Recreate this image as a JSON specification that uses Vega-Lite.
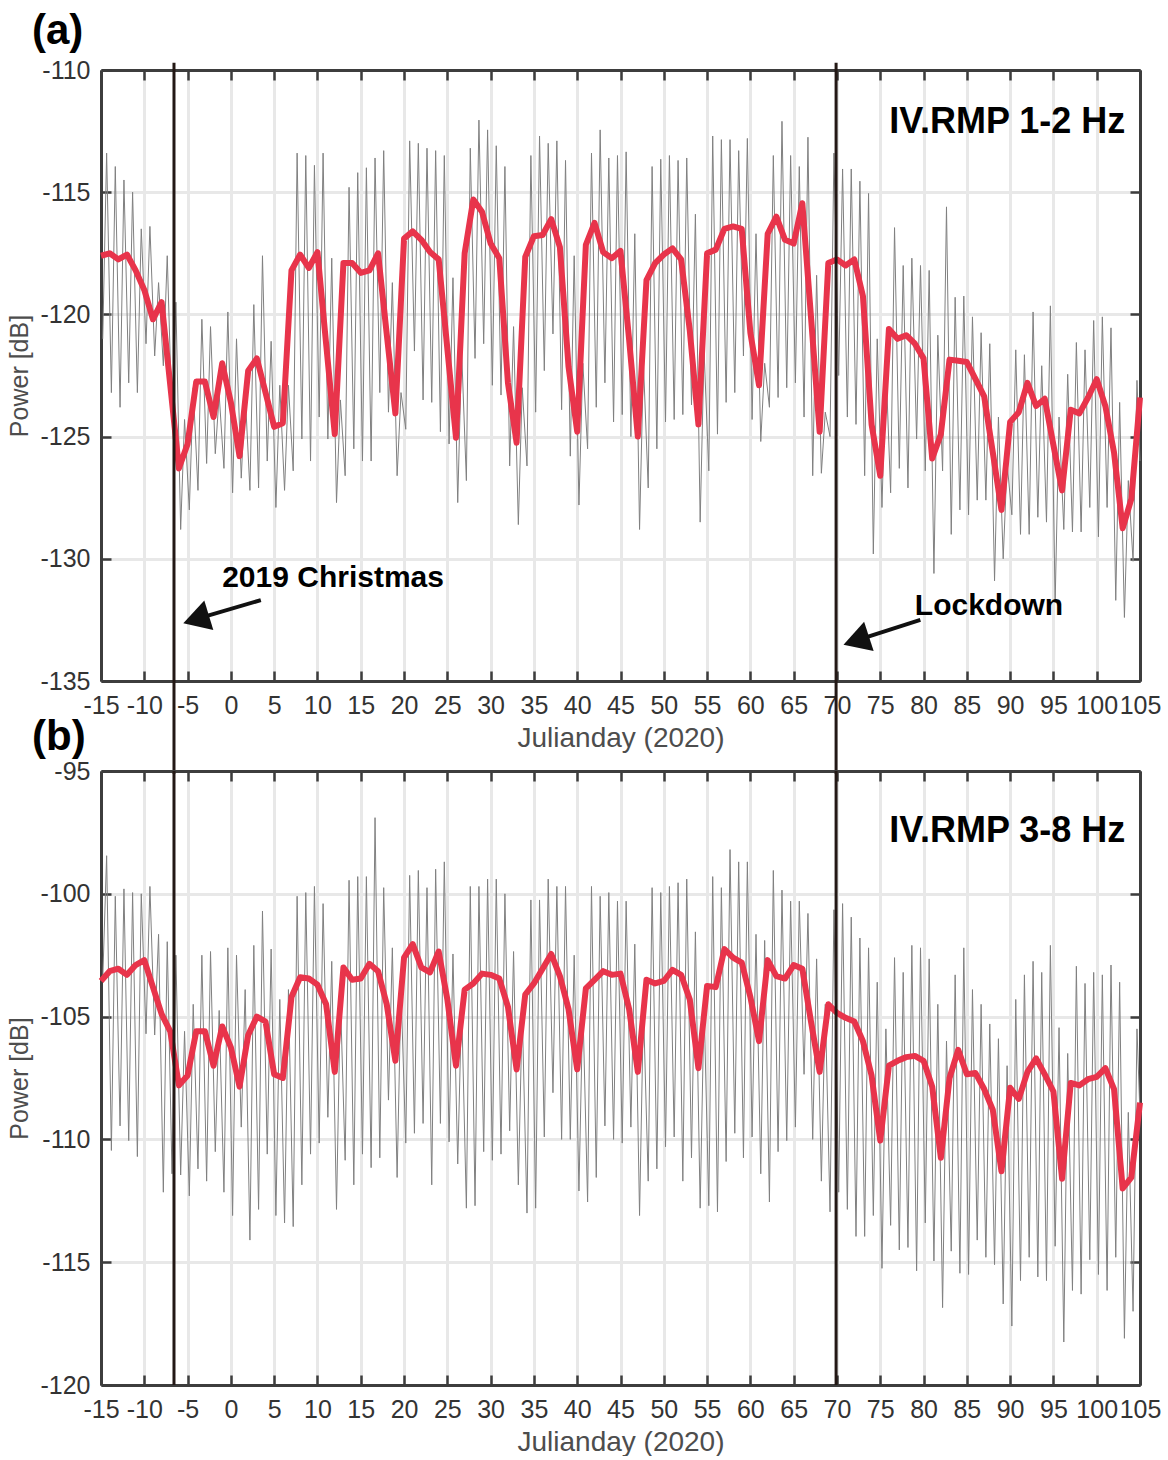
{
  "$schema": "https://vega.github.io/schema/vega-lite/v6.json",
  "background": "white",
  "padding": {"left": 7, "top": 10, "right": 0, "bottom": 0},
  "config": {
    "view": {"stroke": null},
    "font": "Liberation Sans",
    "axis": {
      "labelFont": "Liberation Sans", "titleFont": "Liberation Sans",
      "labelFontSize": 25, "titleFontSize": 28, "titleFontWeight": "normal",
      "labelColor": "#333333", "titleColor": "#4d4d4d",
      "domainColor": "#3d3d3d", "domainWidth": 3,
      "tickColor": "#3d3d3d", "tickWidth": 2.5, "tickSize": -10,
      "gridColor": "#e8e8e8", "gridWidth": 3,
      "labelOverlap": false, "labelFlush": false,
      "labelExpr": "toString(datum.value)"
    }
  },
  "datasets": {
    "events": [{"day": -6.57}, {"day": 69.9}],
    "grayA": [
      {"t":-14.8,"p":-121.0},{"t":-14.35,"p":-113.4},{"t":-13.8,"p":-123.2},{"t":-13.35,"p":-113.95},{"t":-12.8,"p":-123.8},{"t":-12.35,"p":-114.5},{"t":-11.8,"p":-122.8},{"t":-11.35,"p":-115.0},{"t":-10.8,"p":-123.2},{"t":-10.35,"p":-116.5},{"t":-9.8,"p":-121.2},{"t":-9.35,"p":-116.4},{"t":-8.8,"p":-121.7},{"t":-8.35,"p":-118.7},{"t":-7.8,"p":-122.1},{"t":-7.35,"p":-117.6},{"t":-6.8,"p":-124.3},{"t":-6.35,"p":-119.5},{"t":-5.8,"p":-128.8},{"t":-5.35,"p":-124.3},{"t":-4.8,"p":-128.0},{"t":-4.35,"p":-123.0},{"t":-3.8,"p":-127.2},{"t":-3.35,"p":-120.2},{"t":-2.8,"p":-126.1},{"t":-2.35,"p":-120.5},{"t":-1.8,"p":-125.7},{"t":-1.35,"p":-123.3},{"t":-0.8,"p":-126.3},{"t":-0.35,"p":-119.9},
      {"t":0.2,"p":-127.3},{"t":0.65,"p":-121.0},{"t":1.2,"p":-126.7},{"t":1.65,"p":-123.2},{"t":2.2,"p":-127.2},{"t":2.65,"p":-119.6},{"t":3.2,"p":-127.1},{"t":3.65,"p":-117.6},{"t":4.2,"p":-126.0},{"t":4.65,"p":-121.1},{"t":5.2,"p":-127.9},{"t":5.65,"p":-122.9},{"t":6.2,"p":-127.2},{"t":6.65,"p":-122.9},{"t":7.2,"p":-126.4},{"t":7.65,"p":-113.4},{"t":8.2,"p":-125.1},{"t":8.65,"p":-113.5},{"t":9.2,"p":-126.0},{"t":9.65,"p":-113.9},{"t":10.2,"p":-124.2},{"t":10.65,"p":-113.4},{"t":11.2,"p":-125.1},{"t":11.65,"p":-117.7},{"t":12.2,"p":-127.7},{"t":12.65,"p":-123.5},{"t":13.2,"p":-126.6},{"t":13.65,"p":-114.8},{"t":14.2,"p":-125.5},{"t":14.65,"p":-114.2},
      {"t":15.2,"p":-126.0},{"t":15.65,"p":-114.0},{"t":16.2,"p":-126.0},{"t":16.65,"p":-113.6},{"t":17.2,"p":-123.2},{"t":17.65,"p":-113.3},{"t":18.2,"p":-124.0},{"t":18.65,"p":-118.7},{"t":19.2,"p":-126.6},{"t":19.65,"p":-123.2},{"t":20.2,"p":-124.7},{"t":20.65,"p":-112.9},{"t":21.2,"p":-121.5},{"t":21.65,"p":-113.0},{"t":22.2,"p":-123.5},{"t":22.65,"p":-113.2},{"t":23.2,"p":-123.6},{"t":23.65,"p":-113.3},{"t":24.2,"p":-124.8},{"t":24.65,"p":-113.5},{"t":25.2,"p":-125.3},{"t":25.65,"p":-118.5},{"t":26.2,"p":-127.7},{"t":26.65,"p":-121.5},{"t":27.2,"p":-126.8},{"t":27.65,"p":-113.2},{"t":28.2,"p":-121.8},{"t":28.65,"p":-112.05},{"t":29.2,"p":-121.2},{"t":29.65,"p":-112.45},
      {"t":30.2,"p":-122.9},{"t":30.65,"p":-113.1},{"t":31.2,"p":-123.3},{"t":31.65,"p":-113.95},{"t":32.2,"p":-126.2},{"t":32.65,"p":-120.5},{"t":33.2,"p":-128.6},{"t":33.65,"p":-123.0},{"t":34.2,"p":-126.2},{"t":34.65,"p":-113.5},{"t":35.2,"p":-124.0},{"t":35.65,"p":-112.7},{"t":36.2,"p":-122.3},{"t":36.65,"p":-113.0},{"t":37.2,"p":-120.8},{"t":37.65,"p":-112.9},{"t":38.2,"p":-123.9},{"t":38.65,"p":-113.7},{"t":39.2,"p":-125.8},{"t":39.65,"p":-117.6},{"t":40.2,"p":-127.8},{"t":40.65,"p":-122.0},{"t":41.2,"p":-125.5},{"t":41.65,"p":-113.4},{"t":42.2,"p":-123.8},{"t":42.65,"p":-112.45},{"t":43.2,"p":-122.8},{"t":43.65,"p":-113.6},{"t":44.2,"p":-124.4},{"t":44.65,"p":-113.5},
      {"t":45.2,"p":-124.1},{"t":45.65,"p":-113.35},{"t":46.2,"p":-125.0},{"t":46.65,"p":-116.7},{"t":47.2,"p":-128.8},{"t":47.65,"p":-122.0},{"t":48.2,"p":-127.1},{"t":48.65,"p":-113.95},{"t":49.2,"p":-125.5},{"t":49.65,"p":-113.65},{"t":50.2,"p":-124.4},{"t":50.65,"p":-113.5},{"t":51.2,"p":-124.3},{"t":51.65,"p":-113.7},{"t":52.2,"p":-124.1},{"t":52.65,"p":-113.6},{"t":53.2,"p":-123.7},{"t":53.65,"p":-115.9},{"t":54.2,"p":-128.5},{"t":54.65,"p":-121.5},{"t":55.2,"p":-126.4},{"t":55.65,"p":-112.7},{"t":56.2,"p":-124.9},{"t":56.65,"p":-112.85},{"t":57.2,"p":-123.6},{"t":57.65,"p":-112.85},{"t":58.2,"p":-123.2},{"t":58.65,"p":-113.3},{"t":59.2,"p":-121.7},{"t":59.65,"p":-112.8},
      {"t":60.2,"p":-124.3},{"t":60.65,"p":-116.7},{"t":61.2,"p":-125.2},{"t":61.65,"p":-122.0},{"t":62.2,"p":-123.8},{"t":62.65,"p":-113.5},{"t":63.2,"p":-123.4},{"t":63.65,"p":-112.1},{"t":64.2,"p":-123.0},{"t":64.65,"p":-113.5},{"t":65.2,"p":-122.8},{"t":65.65,"p":-113.95},{"t":66.2,"p":-124.2},{"t":66.65,"p":-112.75},{"t":67.2,"p":-126.6},{"t":67.65,"p":-118.4},{"t":68.2,"p":-126.5},{"t":68.65,"p":-124.0},{"t":69.2,"p":-125.0},{"t":69.65,"p":-113.4},{"t":70.2,"p":-122.5},{"t":70.65,"p":-114.05},{"t":71.2,"p":-124.2},{"t":71.65,"p":-114.05},{"t":72.2,"p":-124.5},{"t":72.65,"p":-114.55},{"t":73.2,"p":-126.6},{"t":73.65,"p":-115.05},{"t":74.2,"p":-129.8},{"t":74.65,"p":-121.0},
      {"t":75.2,"p":-127.9},{"t":75.65,"p":-122.0},{"t":76.2,"p":-127.3},{"t":76.65,"p":-116.45},{"t":77.2,"p":-126.3},{"t":77.65,"p":-118.0},{"t":78.2,"p":-127.1},{"t":78.65,"p":-117.7},{"t":79.2,"p":-125.1},{"t":79.65,"p":-118.0},{"t":80.2,"p":-126.4},{"t":80.65,"p":-118.2},{"t":81.2,"p":-130.6},{"t":81.65,"p":-120.85},{"t":82.2,"p":-126.4},{"t":82.65,"p":-115.6},{"t":83.2,"p":-129.0},{"t":83.65,"p":-119.3},{"t":84.2,"p":-128.0},{"t":84.65,"p":-119.25},{"t":85.2,"p":-128.2},{"t":85.65,"p":-120.1},{"t":86.2,"p":-127.6},{"t":86.65,"p":-120.75},{"t":87.2,"p":-127.6},{"t":87.65,"p":-121.2},{"t":88.2,"p":-130.9},{"t":88.65,"p":-124.2},{"t":89.2,"p":-130.0},{"t":89.65,"p":-126.1},
      {"t":90.2,"p":-128.2},{"t":90.65,"p":-121.45},{"t":91.2,"p":-129.0},{"t":91.65,"p":-121.65},{"t":92.2,"p":-129.0},{"t":92.65,"p":-119.9},{"t":93.2,"p":-128.3},{"t":93.65,"p":-122.1},{"t":94.2,"p":-128.5},{"t":94.65,"p":-119.65},{"t":95.2,"p":-131.8},{"t":95.65,"p":-124.2},{"t":96.2,"p":-128.8},{"t":96.65,"p":-122.45},{"t":97.2,"p":-128.9},{"t":97.65,"p":-121.15},{"t":98.2,"p":-128.9},{"t":98.65,"p":-121.45},{"t":99.2,"p":-127.9},{"t":99.65,"p":-120.25},{"t":100.2,"p":-129.1},{"t":100.65,"p":-120.1},{"t":101.2,"p":-127.9},{"t":101.65,"p":-120.55},{"t":102.2,"p":-131.7},{"t":102.65,"p":-123.6},{"t":103.2,"p":-132.4},{"t":103.65,"p":-126.8},{"t":104.2,"p":-130.1},{"t":104.65,"p":-122.7},{"t":105,"p":-126.0}
    ],
    "redA": [
      {"d":-15,"p":-117.6},{"d":-14,"p":-117.5},{"d":-13,"p":-117.75},{"d":-12,"p":-117.55},{"d":-11,"p":-118.2},{"d":-10,"p":-119.0},{"d":-9,"p":-120.2},{"d":-8,"p":-119.5},{"d":-7,"p":-122.9},{"d":-6,"p":-126.3},{"d":-5,"p":-125.3},{"d":-4,"p":-122.75},{"d":-3,"p":-122.75},{"d":-2,"p":-124.2},{"d":-1,"p":-122.0},{"d":0,"p":-123.6},{"d":1,"p":-125.8},{"d":2,"p":-122.3},{"d":3,"p":-121.8},{"d":4,"p":-123.2},{"d":5,"p":-124.6},{"d":6,"p":-124.45},{"d":7,"p":-118.2},{"d":8,"p":-117.55},{"d":9,"p":-118.1},{"d":10,"p":-117.45},{"d":11,"p":-121.2},{"d":12,"p":-124.9},{"d":13,"p":-117.9},{"d":14,"p":-117.9},
      {"d":15,"p":-118.3},{"d":16,"p":-118.2},{"d":17,"p":-117.5},{"d":18,"p":-120.8},{"d":19,"p":-124.05},{"d":20,"p":-116.9},{"d":21,"p":-116.6},{"d":22,"p":-116.95},{"d":23,"p":-117.45},{"d":24,"p":-117.75},{"d":25,"p":-121.4},{"d":26,"p":-125.05},{"d":27,"p":-117.5},{"d":28,"p":-115.3},{"d":29,"p":-115.8},{"d":30,"p":-117.1},{"d":31,"p":-117.7},{"d":32,"p":-122.8},{"d":33,"p":-125.25},{"d":34,"p":-117.65},{"d":35,"p":-116.8},{"d":36,"p":-116.75},{"d":37,"p":-116.1},{"d":38,"p":-117.25},{"d":39,"p":-122.15},{"d":40,"p":-124.8},{"d":41,"p":-117.15},{"d":42,"p":-116.25},{"d":43,"p":-117.45},{"d":44,"p":-117.7},
      {"d":45,"p":-117.4},{"d":46,"p":-121.05},{"d":47,"p":-125.0},{"d":48,"p":-118.6},{"d":49,"p":-117.9},{"d":50,"p":-117.55},{"d":51,"p":-117.3},{"d":52,"p":-117.75},{"d":53,"p":-120.65},{"d":54,"p":-124.5},{"d":55,"p":-117.5},{"d":56,"p":-117.35},{"d":57,"p":-116.5},{"d":58,"p":-116.4},{"d":59,"p":-116.5},{"d":60,"p":-120.75},{"d":61,"p":-122.9},{"d":62,"p":-116.7},{"d":63,"p":-116.0},{"d":64,"p":-116.95},{"d":65,"p":-117.1},{"d":66,"p":-115.45},{"d":67,"p":-120.1},{"d":68,"p":-124.8},{"d":69,"p":-117.9},{"d":70,"p":-117.75},{"d":71,"p":-118.0},{"d":72,"p":-117.75},{"d":73,"p":-119.25},{"d":74,"p":-124.5},
      {"d":75,"p":-126.6},{"d":76,"p":-120.6},{"d":77,"p":-121.0},{"d":78,"p":-120.85},{"d":79,"p":-121.2},{"d":80,"p":-121.8},{"d":81,"p":-125.9},{"d":82,"p":-124.9},{"d":83,"p":-121.85},{"d":84,"p":-121.9},{"d":85,"p":-121.95},{"d":86,"p":-122.65},{"d":87,"p":-123.35},{"d":88,"p":-125.65},{"d":89,"p":-128.0},{"d":90,"p":-124.4},{"d":91,"p":-124.0},{"d":92,"p":-122.8},{"d":93,"p":-123.75},{"d":94,"p":-123.45},{"d":95,"p":-125.35},{"d":96,"p":-127.2},{"d":97,"p":-123.9},{"d":98,"p":-124.05},{"d":99,"p":-123.4},{"d":100,"p":-122.65},{"d":101,"p":-123.75},{"d":102,"p":-125.65},{"d":103,"p":-128.75},{"d":104,"p":-127.55},{"d":105,"p":-123.4}
    ],
    "grayB": [
      {"t":-14.8,"p":-103.5},{"t":-14.35,"p":-98.45},{"t":-13.8,"p":-110.45},{"t":-13.35,"p":-100.1},{"t":-12.8,"p":-109.45},{"t":-12.35,"p":-99.8},{"t":-11.8,"p":-110.05},{"t":-11.35,"p":-99.95},{"t":-10.8,"p":-110.7},{"t":-10.35,"p":-100.0},{"t":-9.8,"p":-105.7},{"t":-9.35,"p":-99.7},{"t":-8.8,"p":-105.75},{"t":-8.35,"p":-101.65},{"t":-7.8,"p":-112.15},{"t":-7.35,"p":-101.95},{"t":-6.8,"p":-111.4},{"t":-6.35,"p":-102.5},{"t":-5.8,"p":-111.45},{"t":-5.35,"p":-105.6},{"t":-4.8,"p":-112.3},{"t":-4.35,"p":-104.5},{"t":-3.8,"p":-111.2},{"t":-3.35,"p":-102.5},{"t":-2.8,"p":-111.7},{"t":-2.35,"p":-102.35},{"t":-1.8,"p":-110.5},{"t":-1.35,"p":-104.75},{"t":-0.8,"p":-112.15},{"t":-0.35,"p":-102.2},
      {"t":0.2,"p":-113.1},{"t":0.65,"p":-102.5},{"t":1.2,"p":-109.5},{"t":1.65,"p":-103.9},{"t":2.2,"p":-114.1},{"t":2.65,"p":-102.1},{"t":3.2,"p":-112.85},{"t":3.65,"p":-100.7},{"t":4.2,"p":-110.6},{"t":4.65,"p":-102.25},{"t":5.2,"p":-113.1},{"t":5.65,"p":-104.3},{"t":6.2,"p":-113.4},{"t":6.65,"p":-103.9},{"t":7.2,"p":-113.55},{"t":7.65,"p":-100.1},{"t":8.2,"p":-111.85},{"t":8.65,"p":-99.95},{"t":9.2,"p":-110.6},{"t":9.65,"p":-99.7},{"t":10.2,"p":-110.15},{"t":10.65,"p":-100.4},{"t":11.2,"p":-109.1},{"t":11.65,"p":-102.75},{"t":12.2,"p":-112.85},{"t":12.65,"p":-104.2},{"t":13.2,"p":-110.85},{"t":13.65,"p":-99.45},{"t":14.2,"p":-111.85},{"t":14.65,"p":-99.3},
      {"t":15.2,"p":-110.6},{"t":15.65,"p":-99.3},{"t":16.2,"p":-111.15},{"t":16.65,"p":-96.9},{"t":17.2,"p":-110.75},{"t":17.65,"p":-99.75},{"t":18.2,"p":-108.4},{"t":18.65,"p":-102.2},{"t":19.2,"p":-111.55},{"t":19.65,"p":-103.9},{"t":20.2,"p":-110.15},{"t":20.65,"p":-99.25},{"t":21.2,"p":-109.75},{"t":21.65,"p":-99.05},{"t":22.2,"p":-109.35},{"t":22.65,"p":-99.75},{"t":23.2,"p":-111.85},{"t":23.65,"p":-99.0},{"t":24.2,"p":-109.35},{"t":24.65,"p":-98.7},{"t":25.2,"p":-110.1},{"t":25.65,"p":-102.45},{"t":26.2,"p":-111.0},{"t":26.65,"p":-104.5},{"t":27.2,"p":-112.8},{"t":27.65,"p":-99.7},{"t":28.2,"p":-112.7},{"t":28.65,"p":-99.7},{"t":29.2,"p":-110.5},{"t":29.65,"p":-99.4},
      {"t":30.2,"p":-110.85},{"t":30.65,"p":-99.4},{"t":31.2,"p":-110.6},{"t":31.65,"p":-100.0},{"t":32.2,"p":-109.65},{"t":32.65,"p":-102.35},{"t":33.2,"p":-111.85},{"t":33.65,"p":-104.8},{"t":34.2,"p":-113.0},{"t":34.65,"p":-100.25},{"t":35.2,"p":-112.8},{"t":35.65,"p":-100.25},{"t":36.2,"p":-109.9},{"t":36.65,"p":-99.4},{"t":37.2,"p":-108.1},{"t":37.65,"p":-99.7},{"t":38.2,"p":-110.0},{"t":38.65,"p":-99.7},{"t":39.2,"p":-110.0},{"t":39.65,"p":-102.5},{"t":40.2,"p":-112.1},{"t":40.65,"p":-104.5},{"t":41.2,"p":-112.55},{"t":41.65,"p":-99.7},{"t":42.2,"p":-111.55},{"t":42.65,"p":-100.1},{"t":43.2,"p":-109.45},{"t":43.65,"p":-99.95},{"t":44.2,"p":-110.0},{"t":44.65,"p":-100.3},
      {"t":45.2,"p":-110.15},{"t":45.65,"p":-100.3},{"t":46.2,"p":-109.5},{"t":46.65,"p":-102.05},{"t":47.2,"p":-113.1},{"t":47.65,"p":-104.6},{"t":48.2,"p":-111.7},{"t":48.65,"p":-99.75},{"t":49.2,"p":-111.2},{"t":49.65,"p":-99.95},{"t":50.2,"p":-110.3},{"t":50.65,"p":-99.7},{"t":51.2,"p":-109.9},{"t":51.65,"p":-99.55},{"t":52.2,"p":-111.7},{"t":52.65,"p":-99.4},{"t":53.2,"p":-110.75},{"t":53.65,"p":-101.55},{"t":54.2,"p":-112.8},{"t":54.65,"p":-104.5},{"t":55.2,"p":-112.7},{"t":55.65,"p":-99.3},{"t":56.2,"p":-112.95},{"t":56.65,"p":-99.75},{"t":57.2,"p":-110.9},{"t":57.65,"p":-98.2},{"t":58.2,"p":-109.75},{"t":58.65,"p":-98.7},{"t":59.2,"p":-110.75},{"t":59.65,"p":-98.7},
      {"t":60.2,"p":-109.9},{"t":60.65,"p":-101.65},{"t":61.2,"p":-111.4},{"t":61.65,"p":-101.9},{"t":62.2,"p":-112.55},{"t":62.65,"p":-99.05},{"t":63.2,"p":-110.5},{"t":63.65,"p":-99.85},{"t":64.2,"p":-110.05},{"t":64.65,"p":-100.3},{"t":65.2,"p":-109.5},{"t":65.65,"p":-100.3},{"t":66.2,"p":-107.35},{"t":66.65,"p":-100.8},{"t":67.2,"p":-110.0},{"t":67.65,"p":-102.65},{"t":68.2,"p":-111.7},{"t":68.65,"p":-104.5},{"t":69.2,"p":-112.95},{"t":69.65,"p":-100.65},{"t":70.2,"p":-112.15},{"t":70.65,"p":-100.4},{"t":71.2,"p":-112.85},{"t":71.65,"p":-100.95},{"t":72.2,"p":-113.95},{"t":72.65,"p":-101.8},{"t":73.2,"p":-113.95},{"t":73.65,"p":-102.2},{"t":74.2,"p":-113.1},{"t":74.65,"p":-103.6},
      {"t":75.2,"p":-115.25},{"t":75.65,"p":-105.5},{"t":76.2,"p":-113.5},{"t":76.65,"p":-102.6},{"t":77.2,"p":-114.5},{"t":77.65,"p":-103.2},{"t":78.2,"p":-114.4},{"t":78.65,"p":-102.1},{"t":79.2,"p":-115.35},{"t":79.65,"p":-102.2},{"t":80.2,"p":-113.4},{"t":80.65,"p":-102.65},{"t":81.2,"p":-114.95},{"t":81.65,"p":-104.5},{"t":82.2,"p":-116.85},{"t":82.65,"p":-106.0},{"t":83.2,"p":-114.55},{"t":83.65,"p":-103.3},{"t":84.2,"p":-115.45},{"t":84.65,"p":-102.2},{"t":85.2,"p":-115.5},{"t":85.65,"p":-103.9},{"t":86.2,"p":-114.1},{"t":86.65,"p":-104.5},{"t":87.2,"p":-114.8},{"t":87.65,"p":-105.3},{"t":88.2,"p":-115.1},{"t":88.65,"p":-105.9},{"t":89.2,"p":-116.7},{"t":89.65,"p":-107.0},
      {"t":90.2,"p":-117.6},{"t":90.65,"p":-104.3},{"t":91.2,"p":-115.75},{"t":91.65,"p":-103.3},{"t":92.2,"p":-114.8},{"t":92.65,"p":-102.75},{"t":93.2,"p":-115.6},{"t":93.65,"p":-103.2},{"t":94.2,"p":-115.75},{"t":94.65,"p":-102.1},{"t":95.2,"p":-114.35},{"t":95.65,"p":-105.45},{"t":96.2,"p":-118.25},{"t":96.65,"p":-106.5},{"t":97.2,"p":-116.15},{"t":97.65,"p":-102.95},{"t":98.2,"p":-116.3},{"t":98.65,"p":-103.65},{"t":99.2,"p":-114.9},{"t":99.65,"p":-103.2},{"t":100.2,"p":-115.5},{"t":100.65,"p":-103.3},{"t":101.2,"p":-116.15},{"t":101.65,"p":-102.9},{"t":102.2,"p":-114.8},{"t":102.65,"p":-103.6},{"t":103.2,"p":-118.1},{"t":103.65,"p":-108.9},{"t":104.2,"p":-117.0},{"t":104.65,"p":-105.5},{"t":105,"p":-109.0}
    ],
    "redB": [
      {"d":-15,"p":-103.55},{"d":-14,"p":-103.15},{"d":-13,"p":-103.05},{"d":-12,"p":-103.3},{"d":-11,"p":-102.9},{"d":-10,"p":-102.7},{"d":-9,"p":-103.8},{"d":-8,"p":-104.9},{"d":-7,"p":-105.6},{"d":-6,"p":-107.8},{"d":-5,"p":-107.4},{"d":-4,"p":-105.6},{"d":-3,"p":-105.6},{"d":-2,"p":-107.0},{"d":-1,"p":-105.4},{"d":0,"p":-106.25},{"d":1,"p":-107.85},{"d":2,"p":-105.75},{"d":3,"p":-105.0},{"d":4,"p":-105.2},{"d":5,"p":-107.35},{"d":6,"p":-107.5},{"d":7,"p":-104.2},{"d":8,"p":-103.4},{"d":9,"p":-103.45},{"d":10,"p":-103.7},{"d":11,"p":-104.5},{"d":12,"p":-107.25},{"d":13,"p":-103.0},{"d":14,"p":-103.5},
      {"d":15,"p":-103.45},{"d":16,"p":-102.85},{"d":17,"p":-103.15},{"d":18,"p":-104.5},{"d":19,"p":-106.8},{"d":20,"p":-102.6},{"d":21,"p":-102.05},{"d":22,"p":-103.0},{"d":23,"p":-103.2},{"d":24,"p":-102.35},{"d":25,"p":-104.3},{"d":26,"p":-107.0},{"d":27,"p":-103.9},{"d":28,"p":-103.65},{"d":29,"p":-103.25},{"d":30,"p":-103.3},{"d":31,"p":-103.45},{"d":32,"p":-104.6},{"d":33,"p":-107.15},{"d":34,"p":-104.1},{"d":35,"p":-103.65},{"d":36,"p":-103.05},{"d":37,"p":-102.45},{"d":38,"p":-103.35},{"d":39,"p":-104.7},{"d":40,"p":-107.15},{"d":41,"p":-103.85},{"d":42,"p":-103.5},{"d":43,"p":-103.15},{"d":44,"p":-103.3},
      {"d":45,"p":-103.25},{"d":46,"p":-104.7},{"d":47,"p":-107.25},{"d":48,"p":-103.5},{"d":49,"p":-103.65},{"d":50,"p":-103.55},{"d":51,"p":-103.1},{"d":52,"p":-103.3},{"d":53,"p":-104.3},{"d":54,"p":-107.1},{"d":55,"p":-103.75},{"d":56,"p":-103.8},{"d":57,"p":-102.25},{"d":58,"p":-102.6},{"d":59,"p":-102.8},{"d":60,"p":-104.2},{"d":61,"p":-106.0},{"d":62,"p":-102.7},{"d":63,"p":-103.35},{"d":64,"p":-103.45},{"d":65,"p":-102.9},{"d":66,"p":-103.05},{"d":67,"p":-105.2},{"d":68,"p":-107.25},{"d":69,"p":-104.5},{"d":70,"p":-104.85},{"d":71,"p":-105.05},{"d":72,"p":-105.2},{"d":73,"p":-106.0},{"d":74,"p":-107.4},
      {"d":75,"p":-110.05},{"d":76,"p":-107.0},{"d":77,"p":-106.8},{"d":78,"p":-106.65},{"d":79,"p":-106.6},{"d":80,"p":-106.8},{"d":81,"p":-107.85},{"d":82,"p":-110.75},{"d":83,"p":-107.5},{"d":84,"p":-106.35},{"d":85,"p":-107.35},{"d":86,"p":-107.3},{"d":87,"p":-107.95},{"d":88,"p":-108.8},{"d":89,"p":-111.3},{"d":90,"p":-107.9},{"d":91,"p":-108.35},{"d":92,"p":-107.25},{"d":93,"p":-106.7},{"d":94,"p":-107.35},{"d":95,"p":-108.05},{"d":96,"p":-111.6},{"d":97,"p":-107.7},{"d":98,"p":-107.8},{"d":99,"p":-107.55},{"d":100,"p":-107.45},{"d":101,"p":-107.1},{"d":102,"p":-107.95},{"d":103,"p":-112.0},{"d":104,"p":-111.55},{"d":105,"p":-108.5}
    ]
  },
  "bounds": "flush",
  "spacing": 90,
  "vconcat": [
    {
      "width": 1039,
      "height": 611,
      "title": {"text": "(a)", "anchor": "start", "frame": "group", "dx": -69, "offset": 5, "fontSize": 42, "fontWeight": "bold", "color": "#000000", "font": "Liberation Sans"},
      "resolve": {"axis": {"x": "independent", "y": "independent"}},
      "layer": [
        {
          "data": {"name": "grayA"},
          "mark": {"type": "line", "color": "#808080", "strokeWidth": 1},
          "encoding": {
            "x": {"field": "t", "type": "quantitative", "scale": {"domain": [-15, 105], "nice": false, "zero": false},
                  "axis": {"orient": "bottom", "values": [-15,-10,-5,0,5,10,15,20,25,30,35,40,45,50,55,60,65,70,75,80,85,90,95,100,105], "title": "Julianday (2020)", "labelPadding": 22, "titlePadding": 6, "grid": true}},
            "y": {"field": "p", "type": "quantitative", "scale": {"domain": [-135, -110], "nice": false, "zero": false},
                  "axis": {"orient": "left", "values": [-135,-130,-125,-120,-115,-110], "title": "Power [dB]", "titleFontSize": 25, "labelPadding": 21, "titlePadding": 7, "grid": true}}
          }
        },
        {
          "data": {"name": "redA"},
          "mark": {"type": "line", "color": "#e8344b", "strokeWidth": 6, "strokeJoin": "round"},
          "encoding": {
            "x": {"field": "d", "type": "quantitative", "scale": {"domain": [-15, 105], "nice": false, "zero": false},
                  "axis": {"orient": "top", "values": [-15,-10,-5,0,5,10,15,20,25,30,35,40,45,50,55,60,65,70,75,80,85,90,95,100,105], "labels": false, "title": null, "grid": false}},
            "y": {"field": "p", "type": "quantitative", "scale": {"domain": [-135, -110], "nice": false, "zero": false},
                  "axis": {"orient": "right", "values": [-135,-130,-125,-120,-115,-110], "labels": false, "title": null, "grid": false}}
          }
        },
        {
          "data": {"name": "events"},
          "mark": {"type": "rule", "color": "#231815", "strokeWidth": 3},
          "encoding": {
            "x": {"field": "day", "type": "quantitative", "axis": null, "scale": {"domain": [-15, 105], "nice": false, "zero": false}},
            "y": {"datum": -109.7, "type": "quantitative", "axis": null, "scale": {"domain": [-135, -110], "nice": false, "zero": false}},
            "y2": {"datum": -138.8}
          }
        },
        {
          "data": {"values": [{}]},
          "mark": {"type": "rule", "color": "#111111", "strokeWidth": 4},
          "encoding": {
            "x": {"datum": 3.46, "type": "quantitative", "axis": null},
            "x2": {"datum": -3.53},
            "y": {"datum": -131.69, "type": "quantitative", "axis": null},
            "y2": {"datum": -132.42}
          }
        },
        {
          "data": {"values": [{}]},
          "mark": {"type": "rule", "color": "#111111", "strokeWidth": 4},
          "encoding": {
            "x": {"datum": 79.63, "type": "quantitative", "axis": null},
            "x2": {"datum": 72.71},
            "y": {"datum": -132.5, "type": "quantitative", "axis": null},
            "y2": {"datum": -133.29}
          }
        },
        {
          "data": {"values": [{}]},
          "mark": {"type": "point", "shape": "triangle", "filled": true, "size": 950, "angle": 253, "color": "#111111", "opacity": 1},
          "encoding": {
            "x": {"datum": -3.53, "type": "quantitative", "axis": null},
            "y": {"datum": -132.42, "type": "quantitative", "axis": null}
          }
        },
        {
          "data": {"values": [{}]},
          "mark": {"type": "point", "shape": "triangle", "filled": true, "size": 950, "angle": 252, "color": "#111111", "opacity": 1},
          "encoding": {
            "x": {"datum": 72.71, "type": "quantitative", "axis": null},
            "y": {"datum": -133.29, "type": "quantitative", "axis": null}
          }
        },
        {
          "data": {"values": [{}]},
          "mark": {"type": "text", "align": "center", "baseline": "middle", "fontSize": 30, "fontWeight": "bold", "color": "#000000", "font": "Liberation Sans"},
          "encoding": {
            "x": {"datum": 11.8, "type": "quantitative", "axis": null},
            "y": {"datum": -130.79, "type": "quantitative", "axis": null},
            "text": {"value": "2019 Christmas"}
          }
        },
        {
          "data": {"values": [{}]},
          "mark": {"type": "text", "align": "center", "baseline": "middle", "fontSize": 30, "fontWeight": "bold", "color": "#000000", "font": "Liberation Sans"},
          "encoding": {
            "x": {"datum": 87.56, "type": "quantitative", "axis": null},
            "y": {"datum": -131.93, "type": "quantitative", "axis": null},
            "text": {"value": "Lockdown"}
          }
        },
        {
          "data": {"values": [{}]},
          "mark": {"type": "text", "align": "right", "baseline": "alphabetic", "fontSize": 36, "fontWeight": "bold", "color": "#000000", "font": "Liberation Sans"},
          "encoding": {
            "x": {"datum": 103.3, "type": "quantitative", "axis": null},
            "y": {"datum": -112.58, "type": "quantitative", "axis": null},
            "text": {"value": "IV.RMP 1-2 Hz"}
          }
        }
      ]
    },
    {
      "width": 1039,
      "height": 614,
      "title": {"text": "(b)", "anchor": "start", "frame": "group", "dx": -69, "offset": 0, "fontSize": 42, "fontWeight": "bold", "color": "#000000", "font": "Liberation Sans"},
      "resolve": {"axis": {"x": "independent", "y": "independent"}},
      "layer": [
        {
          "data": {"name": "grayB"},
          "mark": {"type": "line", "color": "#808080", "strokeWidth": 1},
          "encoding": {
            "x": {"field": "t", "type": "quantitative", "scale": {"domain": [-15, 105], "nice": false, "zero": false},
                  "axis": {"orient": "bottom", "values": [-15,-10,-5,0,5,10,15,20,25,30,35,40,45,50,55,60,65,70,75,80,85,90,95,100,105], "title": "Julianday (2020)", "labelPadding": 22, "titlePadding": 6, "grid": true}},
            "y": {"field": "p", "type": "quantitative", "scale": {"domain": [-120, -95], "nice": false, "zero": false},
                  "axis": {"orient": "left", "values": [-120,-115,-110,-105,-100,-95], "title": "Power [dB]", "titleFontSize": 25, "labelPadding": 21, "titlePadding": 7, "grid": true}}
          }
        },
        {
          "data": {"name": "redB"},
          "mark": {"type": "line", "color": "#e8344b", "strokeWidth": 6, "strokeJoin": "round"},
          "encoding": {
            "x": {"field": "d", "type": "quantitative", "scale": {"domain": [-15, 105], "nice": false, "zero": false},
                  "axis": {"orient": "top", "values": [-15,-10,-5,0,5,10,15,20,25,30,35,40,45,50,55,60,65,70,75,80,85,90,95,100,105], "labels": false, "title": null, "grid": false}},
            "y": {"field": "p", "type": "quantitative", "scale": {"domain": [-120, -95], "nice": false, "zero": false},
                  "axis": {"orient": "right", "values": [-120,-115,-110,-105,-100,-95], "labels": false, "title": null, "grid": false}}
          }
        },
        {
          "data": {"name": "events"},
          "mark": {"type": "rule", "color": "#231815", "strokeWidth": 3},
          "encoding": {
            "x": {"field": "day", "type": "quantitative", "axis": null, "scale": {"domain": [-15, 105], "nice": false, "zero": false}},
            "y": {"datum": -95, "type": "quantitative", "axis": null, "scale": {"domain": [-120, -95], "nice": false, "zero": false}},
            "y2": {"datum": -120}
          }
        },
        {
          "data": {"values": [{}]},
          "mark": {"type": "text", "align": "right", "baseline": "alphabetic", "fontSize": 36, "fontWeight": "bold", "color": "#000000", "font": "Liberation Sans"},
          "encoding": {
            "x": {"datum": 103.3, "type": "quantitative", "axis": null},
            "y": {"datum": -97.89, "type": "quantitative", "axis": null},
            "text": {"value": "IV.RMP 3-8 Hz"}
          }
        }
      ]
    }
  ]
}
